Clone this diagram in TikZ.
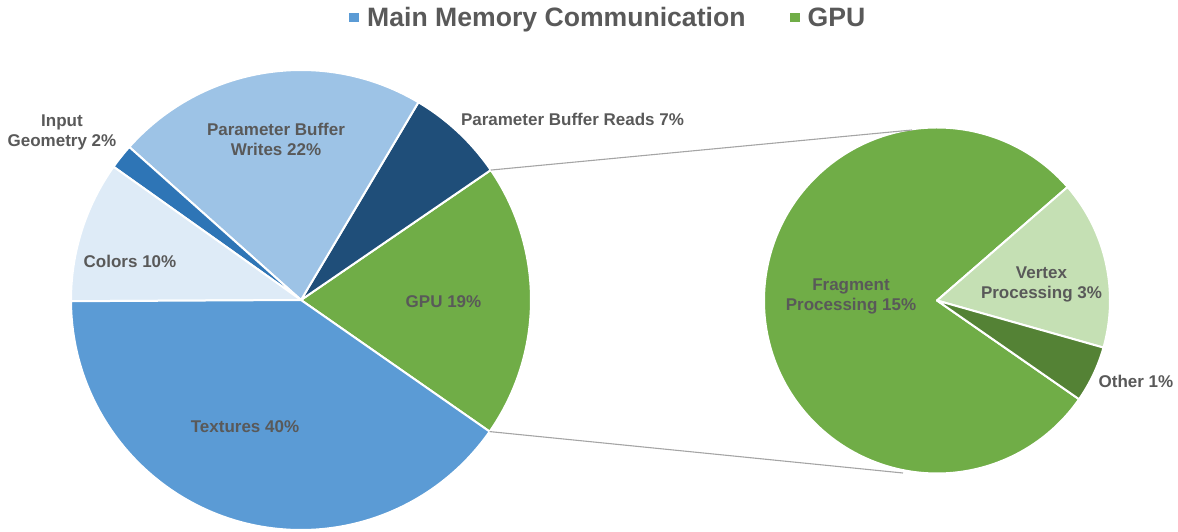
\documentclass[tikz,border=0pt]{standalone}
\usepackage{fontspec}
\setmainfont{Liberation Sans}
\usetikzlibrary{calc}
\definecolor{txtgray}{HTML}{595959}
\definecolor{gpugreen}{HTML}{70AD47}
\definecolor{texblue}{HTML}{5B9BD5}
\definecolor{colorslight}{HTML}{DEEBF7}
\definecolor{inputblue}{HTML}{2E75B6}
\definecolor{writesblue}{HTML}{9DC3E6}
\definecolor{readsblue}{HTML}{1F4E79}
\definecolor{vertexgreen}{HTML}{C5E0B4}
\definecolor{othergreen}{HTML}{548235}
\definecolor{linkgray}{HTML}{A5A5A5}
% one pie slice: centre, start angle, end angle, radius (pt), fill colour
\newcommand\pieslice[5]{%
  \filldraw[slice, fill=#5] (#1) -- ++(#2:#4pt) arc[start angle=#2, end angle=#3, radius=#4pt] -- cycle;}
\begin{document}
\begin{tikzpicture}[x=1pt, y=1pt,
  slice/.style={draw=white, line width=2pt, line join=round},
  lbl/.style={text=txtgray, font=\bfseries\fontsize{17}{20}\selectfont, inner sep=0pt, align=center, anchor=base},
  legtext/.style={text=txtgray, font=\bfseries\fontsize{26.6}{30}\selectfont, inner sep=0pt, anchor=base west},
  legbox/.style={minimum size=9.5pt, inner sep=0pt},
  link/.style={draw=linkgray, line width=1.1pt}]
\useasboundingbox (0,0) rectangle (1178,531);

% legend
\node[legbox, fill=texblue] (lgA) at (354,513.5) {};
\node[legtext] (lgAt) at (367,504) {Main Memory Communication};
\node[legbox, fill=gpugreen] (lgB) at (795,513.5) {};
\node[legtext] (lgBt) at (807.5,504) {GPU};

% main pie
\coordinate (L) at (301,231);
\pieslice{L}{-34.9}{34.4}{230}{gpugreen}
\pieslice{L}{34.4}{59.3}{230}{readsblue}
\pieslice{L}{59.3}{138.3}{230}{writesblue}
\pieslice{L}{138.3}{144.6}{230}{inputblue}
\pieslice{L}{144.6}{180.3}{230}{colorslight}
\pieslice{L}{180.3}{325.1}{230}{texblue}

% breakdown pie of the GPU share
\coordinate (R) at (937,230.5);
\pieslice{R}{41}{325.2}{173}{gpugreen}
\pieslice{R}{-15.8}{41}{173}{vertexgreen}
\pieslice{R}{-34.8}{-15.8}{173}{othergreen}

% links between the two pies
\coordinate (gTop) at ($(L)+(34.4:230pt)$);
\coordinate (gBot) at ($(L)+(-34.9:230pt)$);
\coordinate (rTop) at (912,401);
\coordinate (rBot) at (903,58);
\draw[link] (gTop) -- (rTop);
\draw[link] (gBot) -- (rBot);

% slice labels
\node[lbl] (tInput) at (62,384) {Input\\Geometry 2\%};
\node[lbl] (tWrites) at (276,375.3) {Parameter Buffer\\Writes 22\%};
\node[lbl] (tReads) at (572.5,405) {Parameter Buffer Reads 7\%};
\node[lbl] (tColors) at (130,264) {Colors 10\%};
\node[lbl] (tGPU) at (443.5,224) {GPU 19\%};
\node[lbl] (tTex) at (245,99) {Textures 40\%};
\node[lbl] (tFrag) at (851,221) {Fragment\\Processing 15\%};
\node[lbl] (tVert) at (1041.5,233) {Vertex\\Processing 3\%};
\node[lbl] (tOther) at (1136,144) {Other 1\%};
\end{tikzpicture}
\end{document}
